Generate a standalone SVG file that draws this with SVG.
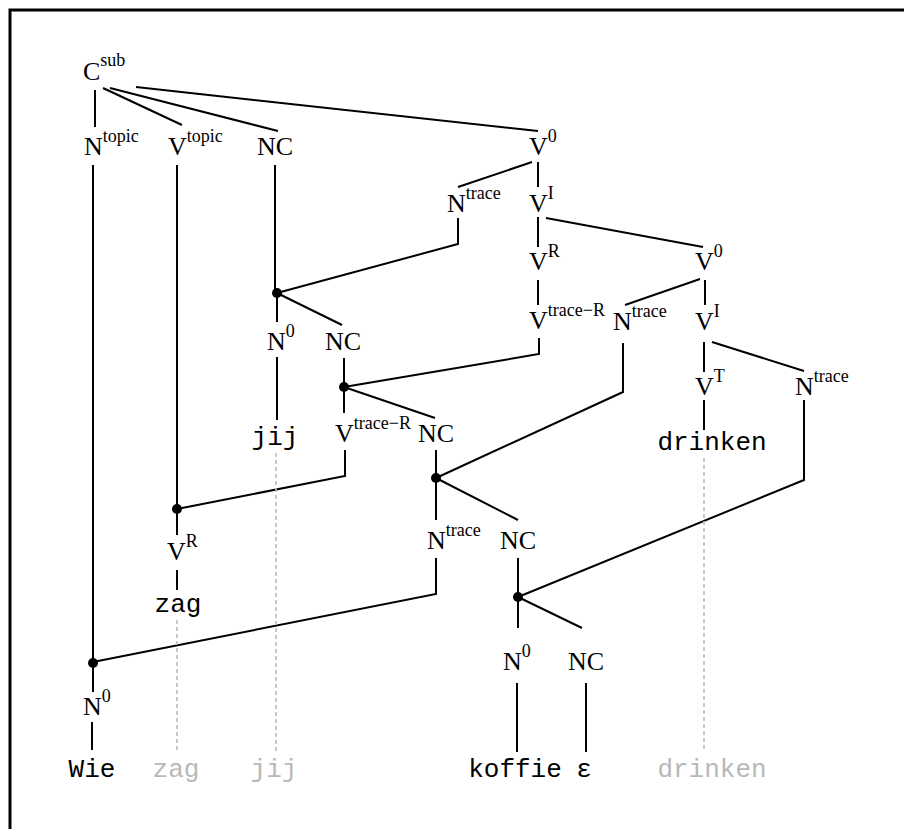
<svg xmlns="http://www.w3.org/2000/svg" width="904" height="829" viewBox="0 0 904 829">
<style>
.lbl{font-family:"Liberation Serif","Times New Roman",serif;font-size:26px;fill:#000}
.sup{font-size:18px}
.w{font-family:"Liberation Mono","Courier New",monospace;font-size:26px;fill:#000;text-anchor:middle}
.g{fill:#b8b8b8}
.e{stroke:#000;stroke-width:2;fill:none}
.d{stroke:#bbb;stroke-width:1.6;stroke-dasharray:4 3;fill:none}
.dot{fill:#000}
</style>
<rect x="10" y="10" width="1000" height="1000" fill="#fff" stroke="#000" stroke-width="3"/>
<g id="connectors">
<path class="e" d="M95 90V127M103 88L182 125M110 88L278 131M136 87L538 131"/>
<path class="e" d="M93 165V663M177 165V509M275 165V293"/>
<path class="e" d="M532 162L458 187M538 162V187"/>
<path class="e" d="M458 218V244L277 293"/>
<path class="e" d="M538 217V247M546 218L703 247M538 280V305"/>
<path class="e" d="M700 279L625 305M705 280V305"/>
<path class="e" d="M539 338V354L344 387"/>
<path class="e" d="M623 343V392L436 478"/>
<path class="e" d="M704 342V372M712 342L804 371M704 400V430"/>
<path class="e" d="M804 400V480L518 597"/>
<path class="e" d="M277 293V322M277 293L342 325M277 357V420"/>
<path class="e" d="M344 358V387M344 387V413M344 387L435 418"/>
<path class="e" d="M345 450V476L177 509"/>
<path class="e" d="M436 450V478M436 478V520M436 478L518 520"/>
<path class="e" d="M436 558V594L93 662"/>
<path class="e" d="M518 558V597M518 597V628M518 597L582 628"/>
<path class="e" d="M517 683V752M586 683V752"/>
<path class="e" d="M177 509V535M177 570V590"/>
<path class="e" d="M93 663V692M92 722V750"/>
<path class="d" d="M177 620V752M276 453V752M704 458V752"/>
<circle class="dot" cx="277" cy="293" r="5"/>
<circle class="dot" cx="344" cy="387" r="5"/>
<circle class="dot" cx="436" cy="478" r="5"/>
<circle class="dot" cx="518" cy="597" r="5"/>
<circle class="dot" cx="177" cy="509" r="5"/>
<circle class="dot" cx="93" cy="663" r="5"/>
</g>
<g id="n-Csub"><text class="lbl" x="83" y="80">C<tspan class="sup" dy="-14">sub</tspan></text></g>
<g id="n-Ntopic"><text class="lbl" x="84" y="155">N<tspan class="sup" dy="-13">topic</tspan></text></g>
<g id="n-Vtopic"><text class="lbl" x="168" y="155">V<tspan class="sup" dy="-13">topic</tspan></text></g>
<g id="n-NC1"><text class="lbl" x="257" y="155">NC</text></g>
<g id="n-V0a"><text class="lbl" x="529" y="155">V<tspan class="sup" dy="-13">0</tspan></text></g>
<g id="n-Ntrace1"><text class="lbl" x="447" y="212">N<tspan class="sup" dy="-13">trace</tspan></text></g>
<g id="n-VIa"><text class="lbl" x="529" y="212">V<tspan class="sup" dy="-13">I</tspan></text></g>
<g id="n-VR1"><text class="lbl" x="529" y="270">V<tspan class="sup" dy="-13">R</tspan></text></g>
<g id="n-V0b"><text class="lbl" x="695" y="270">V<tspan class="sup" dy="-13">0</tspan></text></g>
<g id="n-VtraceR1"><text class="lbl" x="529" y="329">V<tspan class="sup" dy="-13">trace−R</tspan></text></g>
<g id="n-Ntrace2"><text class="lbl" x="613" y="330">N<tspan class="sup" dy="-13">trace</tspan></text></g>
<g id="n-VIb"><text class="lbl" x="695" y="330">V<tspan class="sup" dy="-13">I</tspan></text></g>
<g id="n-N0a"><text class="lbl" x="267" y="350">N<tspan class="sup" dy="-13">0</tspan></text></g>
<g id="n-NC2"><text class="lbl" x="325" y="350">NC</text></g>
<g id="n-VT"><text class="lbl" x="695" y="395">V<tspan class="sup" dy="-13">T</tspan></text></g>
<g id="n-Ntrace3"><text class="lbl" x="795" y="395">N<tspan class="sup" dy="-13">trace</tspan></text></g>
<g id="n-VtraceR2"><text class="lbl" x="335" y="442">V<tspan class="sup" dy="-13">trace−R</tspan></text></g>
<g id="n-NC3"><text class="lbl" x="418" y="442">NC</text></g>
<g id="n-jij"><text class="w" x="275" y="445">jij</text></g>
<g id="n-drinken"><text class="w" x="712" y="450">drinken</text></g>
<g id="n-Ntrace4"><text class="lbl" x="427" y="549">N<tspan class="sup" dy="-13">trace</tspan></text></g>
<g id="n-NC4"><text class="lbl" x="500" y="549">NC</text></g>
<g id="n-VR2"><text class="lbl" x="167" y="560">V<tspan class="sup" dy="-13">R</tspan></text></g>
<g id="n-zag"><text class="w" x="178" y="612">zag</text></g>
<g id="n-N0b"><text class="lbl" x="503" y="670">N<tspan class="sup" dy="-13">0</tspan></text></g>
<g id="n-NC5"><text class="lbl" x="568" y="670">NC</text></g>
<g id="n-N0c"><text class="lbl" x="83" y="715">N<tspan class="sup" dy="-13">0</tspan></text></g>
<g id="n-Wie"><text class="w" x="92" y="777">Wie</text></g>
<g id="n-zag-g"><text class="w g" x="176" y="777">zag</text></g>
<g id="n-jij-g"><text class="w g" x="274" y="777">jij</text></g>
<g id="n-koffie"><text class="w" x="515" y="777">koffie</text></g>
<g id="n-eps"><text class="w" x="584" y="777">ε</text></g>
<g id="n-drinken-g"><text class="w g" x="712" y="777">drinken</text></g>
</svg>
